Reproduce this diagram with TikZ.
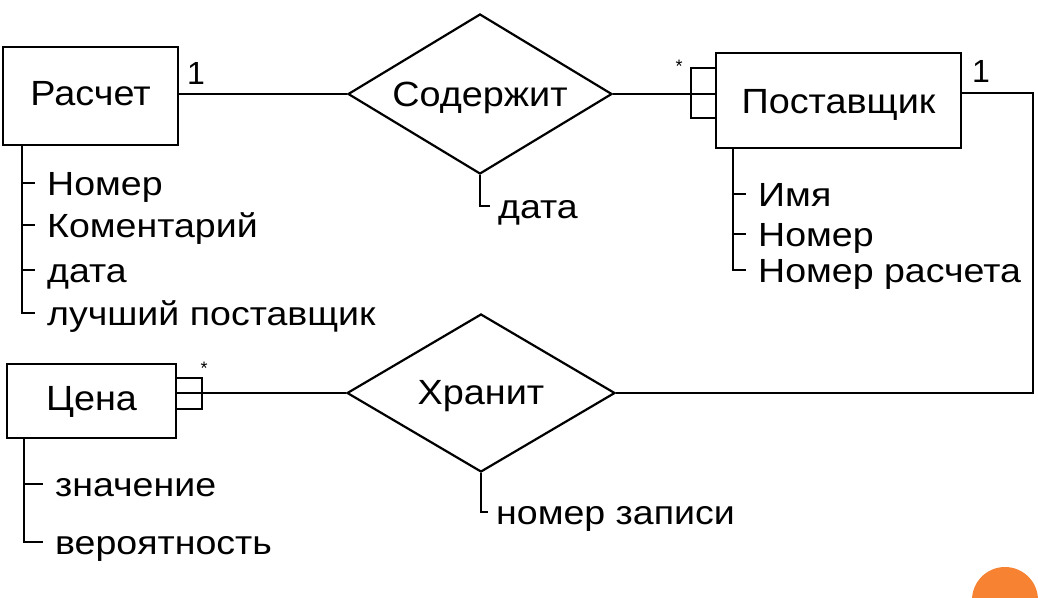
\documentclass[tikz,border=0pt]{standalone}
\usepackage{fontspec}
\setmainfont{Liberation Sans}
\newfontfamily\labfont[FakeStretch=1.08]{Liberation Sans}
\newfontfamily\attfont[FakeStretch=1.12]{Liberation Sans}
\usetikzlibrary{shapes.geometric}
\definecolor{dotorange}{RGB}{246,130,50}
\tikzset{
  lw/.style={line width=2.5pt},
  entity/.style={draw, rectangle, line width=2.9pt, inner sep=0pt, text height=25pt, font=\labfont\fontsize{35}{38}\selectfont},
  rel/.style={draw, diamond, line width=2.2pt, inner sep=0pt, aspect=1.65, text height=25pt, font=\labfont\fontsize{35}{38}\selectfont},
  multbox/.style={draw, rectangle, line width=2.5pt, inner sep=0pt},
  attr/.style={inner sep=0pt, anchor=west, text height=24pt, text depth=0pt, font=\attfont\fontsize{33.5}{36}\selectfont},
  mult/.style={inner sep=0pt, font=\fontsize{32}{34}\selectfont},
  star/.style={inner sep=0pt, font=\fontsize{18}{20}\selectfont},
}
\begin{document}
\begin{tikzpicture}[x=1pt,y=-1pt]
\useasboundingbox (0,0) rectangle (1038,597);
\fill[white] (0,0) rectangle (1038,597);

% entities
\node[entity, text depth=7pt, minimum width=175pt, minimum height=98pt] (rasch) at (90.5,96) {Расчет\hspace{5pt}};
\node[entity, text depth=0pt, minimum width=245pt, minimum height=95pt] (post) at (838.5,100.5) {Поставщик\hspace{7pt}};
\node[entity, text depth=7pt, minimum width=169pt, minimum height=74pt] (cena) at (91.5,401) {Цена\hspace{3pt}};

% multiplicity boxes
\node[multbox, minimum width=25pt, minimum height=50pt] (mb1) at (703.5,93) {};
\node[multbox, minimum width=26pt, minimum height=31pt] (mb2) at (189,393.5) {};

% relationships
\node[rel, text depth=1pt, minimum width=264pt, minimum height=160pt] (sod) at (480,94) {Содержит};
\node[rel, text depth=3pt, minimum width=268pt, minimum height=158pt] (khr) at (481,393) {Хранит};

% connectors
\draw[lw] (rasch.east |- sod.west) -- (sod.west);
\draw[lw] (sod.east) -- (sod.east -| post.west);
\coordinate (c1) at (1033,93);
\coordinate (c2) at (1033,393);
\draw[lw] (post.east |- c1) -- (c1) -- (c2) -- (khr.east);
\draw[lw] (khr.west) -- (khr.west -| cena.east);

% multiplicities
\node[mult] (m1) at (196,73) {1};
\node[star] (s1) at (679,66) {*};
\node[mult] (m2) at (981,71) {1};
\node[star] (s2) at (204,368) {*};

% attributes of Расчет
\node[attr] (ra1) at (47,183) {Номер};
\node[attr] (ra2) at (47,225) {Коментарий};
\node[attr] (ra3) at (47,270) {дата};
\node[attr] (ra4) at (47,313) {лучший поставщик};
\coordinate (rl) at (22,145);
\draw[lw] (rl) |- ([xshift=-12pt]ra4.west);
\foreach \a in {ra1,ra2,ra3} \draw[lw] (\a.west -| rl) -- ([xshift=-12pt]\a.west);

% attributes of Поставщик
\node[attr] (pa1) at (758,194) {Имя};
\node[attr] (pa2) at (758,234) {Номер};
\node[attr] (pa3) at (758,270) {Номер расчета};
\coordinate (pl) at (733,148);
\draw[lw] (pl) |- ([xshift=-12pt]pa3.west);
\foreach \a in {pa1,pa2} \draw[lw] (\a.west -| pl) -- ([xshift=-12pt]\a.west);

% attributes of Цена
\node[attr] (ca1) at (55,484) {значение};
\node[attr] (ca2) at (55,542) {вероятность};
\coordinate (cl) at (24,438);
\draw[lw] (cl) |- ([xshift=-12pt]ca2.west);
\draw[lw] (ca1.west -| cl) -- ([xshift=-12pt]ca1.west);

% attributes of relationships
\node[attr] (sa1) at (498,206) {дата};
\draw[lw] (sod.south) |- ([xshift=-8pt]sa1.west);
\node[attr] (ka1) at (496,512) {номер записи};
\draw[lw] (khr.south) |- ([xshift=-8pt]ka1.west);

% slide decoration
\begin{scope}
\clip (0,0) rectangle (1038,597);
\fill[dotorange] (1005,600) circle (33pt);
\end{scope}
\end{tikzpicture}
\end{document}
